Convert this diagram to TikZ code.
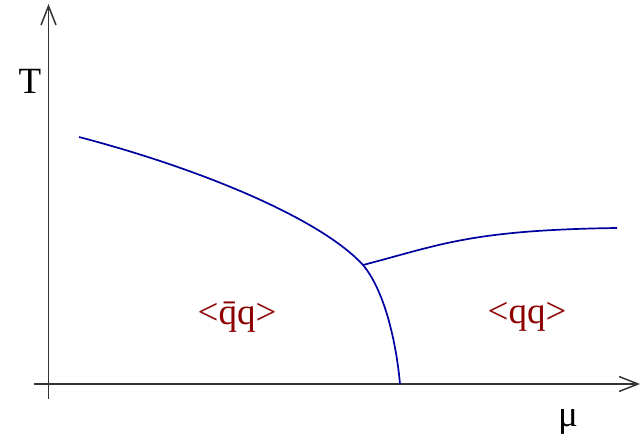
\documentclass[tikz,border=0pt]{standalone}
\usepackage{fontspec}
\setmainfont{Liberation Serif}
\usetikzlibrary{arrows.meta}
\definecolor{curveblue}{RGB}{0,0,160}
\definecolor{labelred}{RGB}{140,0,0}
\begin{document}
\begin{tikzpicture}[x=1pt,y=-1pt,
  axis/.style={line width=1.7pt, draw=black!80, -{Straight Barb[length=19pt,width=15pt,line width=1.5pt]}},
  phase/.style={line width=1.7pt, draw=curveblue},
  lbl/.style={font=\fontsize{37}{42}\selectfont, inner sep=0pt},
  reg/.style={lbl, text=labelred}]
\useasboundingbox (0,0) rectangle (642,438);
\coordinate (ybot) at (48.5,399);
\coordinate (ytop) at (48.5,4);
\coordinate (xleft) at (34,384);
\coordinate (xright) at (640,384);
\draw[axis] (ybot) -- (ytop);
\draw[axis] (xleft) -- (xright);
\coordinate (c1) at (79,137);
\coordinate (tri) at (363,265);
\coordinate (c2) at (400,384);
\coordinate (c3) at (617,228);
\draw[phase] (c1) .. controls (205,170) and (322,220) .. (tri)
  .. controls (384,290) and (396,340) .. (c2);
\draw[phase] (tri) .. controls (440,245) and (470,230) .. (c3);
\node[lbl] (T) at (30,81) {T};
\node[lbl] (mu) at (568,422) {μ};
\node[reg] (qbarq) at (237,317) {<\={q}q>};
\node[reg] (qq) at (527,317) {<qq>};
\end{tikzpicture}
\end{document}
